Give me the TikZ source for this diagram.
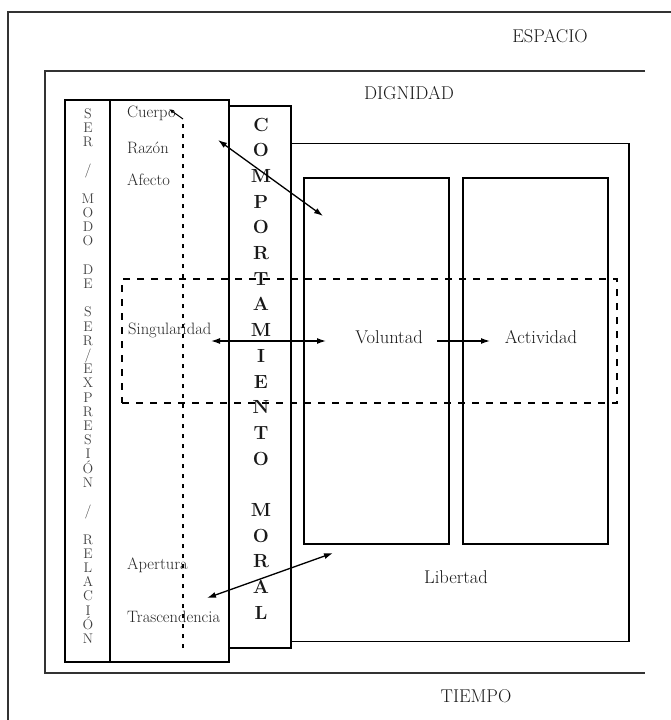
\documentclass[tikz,border=0pt]{standalone}
\usepackage{fontspec}
\usetikzlibrary{arrows.meta}
\begin{document}
\begin{tikzpicture}[x=1pt,y=-1pt,
  frame/.style={line width=1.6pt, draw=black!80},
  box/.style={draw=black, line width=1.6pt, inner sep=0, fill=none},
  dashbox/.style={draw=black, line width=1.4pt, dash pattern=on 7pt off 7pt, inner sep=0},
  dotline/.style={line width=1.4pt, dash pattern=on 4pt off 6pt},
  link/.style={line width=1.3pt, {Latex[length=9pt,width=6pt]}-{Latex[length=9pt,width=6pt]}},
  onelink/.style={line width=1.3pt, -{Latex[length=9pt,width=6pt]}},
  head/.style={font=\fontsize{18.5}{18.5}\selectfont, text=black!90, inner sep=0, anchor=base},
  word/.style={font=\fontsize{18.5}{18.5}\selectfont, text=black!90, inner sep=0, anchor=base},
  lab/.style={font=\fontsize{16.5}{16.5}\selectfont, text=black!85, inner sep=0, anchor=base west},
  serch/.style={font=\fontsize{14}{14}\selectfont, text=black!75, inner sep=0, anchor=base},
  comch/.style={font=\bfseries\fontsize{19}{19}\selectfont, text=black!90, inner sep=0, anchor=base}]
\useasboundingbox (0,0) rectangle (671,720);

% outer frames: space and dignity
\coordinate (e1) at (671,12);
\coordinate (e2) at (8,12);
\coordinate (e3) at (8,720);
\draw[frame] (e1) -- (e2) -- (e3);
\coordinate (d1) at (645,71);
\coordinate (d2) at (45,71);
\coordinate (d3) at (45,673);
\coordinate (d4) at (645,673);
\draw[frame] (d1) -- (d2) -- (d3) -- (d4);

\node[head] (espacio) at (550,42) {ESPACIO};
\node[head] (dignidad) at (409,99) {DIGNIDAD};
\node[head] (tiempo) at (476,702) {TIEMPO};

% columns
\node[box, minimum width=45pt, minimum height=562pt] (ser) at (87.5,381) {};
\node[box, minimum width=119pt, minimum height=562pt] (dims) at (169.5,381) {};
\node[box, minimum width=62pt, minimum height=542pt] (comp) at (260,377) {};
\node[box, minimum width=338pt, minimum height=498pt] (libertad) at (460,392.5) {};
\node[box, minimum width=145pt, minimum height=366pt] (volbox) at (376.5,361) {};
\node[box, minimum width=145pt, minimum height=366pt] (actbox) at (535.5,361) {};

% dashed band and dotted axis
\node[dashbox, minimum width=495pt, minimum height=124pt] (band) at (369.5,341) {};
\coordinate (ax1) at (183,648);
\coordinate (ax2) at (183,119);
\coordinate (ax3) at (169,109);
\draw[dotline] (ax1) -- (ax2);
\draw[line width=1pt, -{Latex[length=5pt,width=4pt]}] (ax2) -- (ax3);

% vertical label of the first column
\foreach \ch [count=\i from 0] in {S,E,R,{},/,{},M,O,D,O,{},D,E,{},S,E,R,/,E,X,P,R,E,S,I,Ó,N,{},/,{},R,E,L,A,C,I,Ó,N}
  \node[serch] (s\i) at (88,118+\i*14.2) {\ch};

% vertical label of the behaviour column
\foreach \ch [count=\i from 0] in {C,O,M,P,O,R,T,A,M,I,E,N,T,O,{},M,O,R,A,L}
  \node[comch] (c\i) at (261,131+\i*25.7) {\ch};

% dimensions
\node[lab] (cuerpo) at (127,117) {Cuerpo};
\node[lab] (razon) at (127,153) {Razón};
\node[lab] (afecto) at (127,185) {Afecto};
\node[lab] (singular) at (128,334) {Singularidad};
\node[lab] (apertura) at (127,569) {Apertura};
\node[lab] (trasc) at (127,622) {Trascendencia};

\node[word] (voluntad) at (389,343) {Voluntad};
\node[word] (actividad) at (541,343) {Actividad};
\node[word] (libtxt) at (456,583) {Libertad};

% connectors
\coordinate (r1) at (218,140);
\coordinate (r2) at (323,216);
\draw[link] (r1) -- (r2);
\coordinate (g1) at (211,341);
\coordinate (g2) at (326,341);
\draw[link] (g1) -- (g2);
\coordinate (v1) at (437,341);
\coordinate (v2) at (490,341);
\draw[onelink] (v1) -- (v2);
\coordinate (t1) at (207,598);
\coordinate (t2) at (333,553);
\draw[link] (t1) -- (t2);
\end{tikzpicture}
\end{document}
